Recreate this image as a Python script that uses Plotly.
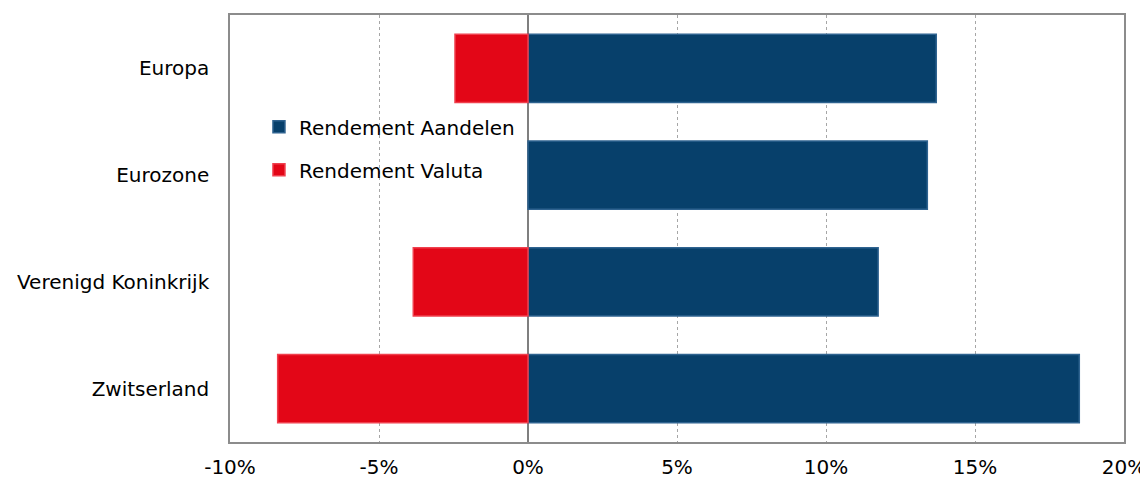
import plotly.graph_objects as go

categories = ["Europa", "Eurozone", "Verenigd Koninkrijk", "Zwitserland"]
aandelen = [13.7, 13.4, 11.75, 18.5]
valuta = [-2.45, None, -3.85, -8.4]
x_ticks = [-10, -5, 0, 5, 10, 15, 20]
x_tick_labels = ["-10%", "-5%", "0%", "5%", "10%", "15%", "20%"]

FONT = "DejaVu Sans, Verdana, sans-serif"
BLUE = "#07406B"
RED = "#E30617"

fig = go.Figure()
fig.add_trace(go.Bar(
    y=categories, x=aandelen, orientation="h", name="Rendement Aandelen",
    marker=dict(color=BLUE, line=dict(color="#2F6390", width=1.5)),
    legendgroup="a",
))
fig.add_trace(go.Bar(
    y=categories, x=valuta, orientation="h", name="Rendement Valuta",
    marker=dict(color=RED, line=dict(color="#F0404E", width=1.5)),
    legendgroup="b",
))

# page body has an 8px default margin, so the figure is sized to fit the window
fig.update_layout(
    width=1140, height=469,
    margin=dict(l=222, r=24, t=7, b=35),
    paper_bgcolor="white", plot_bgcolor="white",
    barmode="overlay", bargap=0.36,
    font=dict(family=FONT, size=20, color="#000000"),
    showlegend=True,
    legend=dict(
        x=0.0324, y=0.784, xanchor="left", yanchor="top",
        bgcolor="rgba(255,255,255,0)", font=dict(family=FONT, size=20),
        tracegroupgap=14, itemwidth=30, traceorder="grouped",
    ),
    xaxis=dict(
        range=[-10, 20], tickvals=x_ticks, ticktext=x_tick_labels,
        showgrid=True, gridcolor="#A6A6A6", griddash="3px,3px", gridwidth=1,
        zeroline=True, zerolinecolor="#7F7F7F", zerolinewidth=1.5,
        showline=True, linecolor="#8C8C8C", linewidth=1.5, mirror=True,
        ticks="", ticklabelstandoff=6, automargin=False, fixedrange=True,
    ),
    yaxis=dict(
        categoryorder="array", categoryarray=categories[::-1],
        showgrid=False, zeroline=False,
        showline=True, linecolor="#8C8C8C", linewidth=1.5, mirror=True,
        ticks="", ticklabelstandoff=15, automargin=False,
    ),
)

fig.write_html("out.html")
